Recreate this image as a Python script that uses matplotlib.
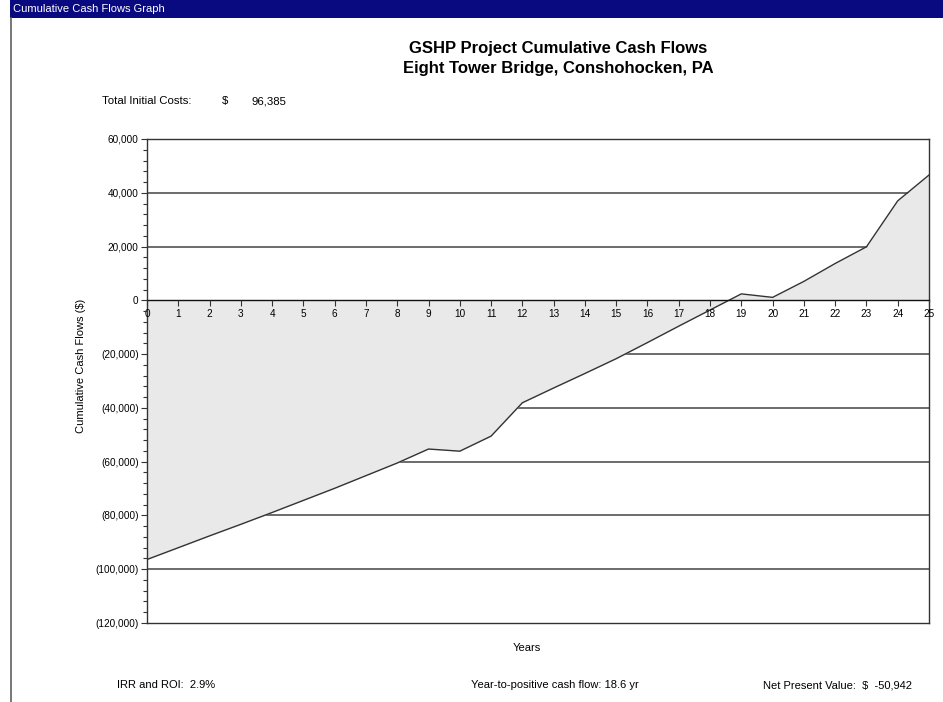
import matplotlib
matplotlib.use("Agg")
import matplotlib.pyplot as plt
from matplotlib.ticker import FuncFormatter, MultipleLocator
from matplotlib.patches import Rectangle
from matplotlib.lines import Line2D

years = list(range(0, 26))
cumulative = [-96385, -92000, -87600, -83300, -78900, -74400, -69900, -65200,
              -60500, -55300, -56100, -50500, -38100, -32600, -27200, -21700,
              -15700, -9600, -3600, 2400, 1100, 7050, 13700, 19900, 37000, 46600]

title_lines = ["GSHP Project Cumulative Cash Flows", "Eight Tower Bridge, Conshohocken, PA"]
window_title = "Cumulative Cash Flows Graph"
y_label = "Cumulative Cash Flows ($)"
x_label = "Years"
initial_cost_label = "Total Initial Costs:"
initial_cost_value = "96,385"
irr_text = "IRR and ROI:  2.9%"
payback_text = "Year-to-positive cash flow: 18.6 yr"
npv_text = "Net Present Value:  $  -50,942"

FONT = "Liberation Sans"
SMALL = 8.0
W, H = 943, 702
fig = plt.figure(figsize=(W / 100, H / 100), dpi=100)
fig.patch.set_facecolor("white")

def fx(px):
    return px / W

def fy(py):
    return 1 - py / H

# window chrome
fig.patches.append(Rectangle((fx(10), fy(18)), fx(933), 18 / H, transform=fig.transFigure,
                             facecolor="#0a0a80", edgecolor="none", zorder=0))
fig.text(fx(13), fy(9), window_title, color="white", fontsize=SMALL, family=FONT,
         va="center", ha="left")
fig.lines.append(Line2D([fx(10.5), fx(10.5)], [fy(18), fy(702)], transform=fig.transFigure,
                        color="#606060", lw=1.2))

ax = fig.add_axes([fx(147), fy(623), fx(929 - 147), (623 - 139) / H])
ax.set_xlim(0, 25)
ax.set_ylim(-120000, 60000)

# gridlines behind fill
for v in range(-100000, 60000, 20000):
    if v != 0:
        ax.axhline(v, color="#444444", lw=1.1, zorder=1)

ax.fill_between(years, cumulative, 0, color="#e9e9e9", zorder=2, linewidth=0)
ax.plot(years, cumulative, color="#333333", lw=1.0, zorder=3)

for s in ["top", "right", "left"]:
    ax.spines[s].set_color("#333333")
    ax.spines[s].set_linewidth(1.0)
ax.spines["bottom"].set_position(("data", 0))
ax.spines["bottom"].set_color("#111111")
ax.spines["bottom"].set_linewidth(1.0)
ax.spines["bottom"].set_zorder(4)
ax.plot([0, 25], [-120000, -120000], color="#333333", lw=1.0, clip_on=False, zorder=4)

ax.xaxis.set_zorder(5)
ax.yaxis.set_zorder(5)

ax.set_xticks(years)
ax.set_xticklabels([str(y) for y in years], fontsize=7.2, family=FONT)
ax.tick_params(axis="x", direction="out", length=4, width=0.8, pad=2, color="#333333")

ax.yaxis.set_major_locator(MultipleLocator(20000))
ax.yaxis.set_minor_locator(MultipleLocator(4000))

def fmt(v, pos):
    v = int(round(v))
    if v < 0:
        return "({:,})".format(-v)
    return "{:,}".format(v)

ax.yaxis.set_major_formatter(FuncFormatter(fmt))
ax.tick_params(axis="y", which="major", direction="out", length=4, width=0.8, pad=2,
               labelsize=7.2, color="#333333")
ax.tick_params(axis="y", which="minor", direction="out", length=3, width=0.8, color="#333333")
for lab in ax.get_yticklabels():
    lab.set_family(FONT)

fig.text(fx(558), fy(49), title_lines[0], ha="center", va="center", fontsize=12,
         fontweight="bold", family=FONT)
fig.text(fx(558), fy(69), title_lines[1], ha="center", va="center", fontsize=12,
         fontweight="bold", family=FONT)

fig.text(fx(102), fy(101), initial_cost_label, ha="left", va="center", fontsize=8.2, family=FONT)
fig.text(fx(222), fy(101), "$", ha="left", va="center", fontsize=8.2, family=FONT)
fig.text(fx(252), fy(101), initial_cost_value, ha="left", va="center", fontsize=8.2, family=FONT)

fig.text(fx(81), fy(366), y_label, ha="center", va="center", rotation=90, fontsize=SMALL, family=FONT)
fig.text(fx(527), fy(648), x_label, ha="center", va="center", fontsize=SMALL, family=FONT)

fig.text(fx(117), fy(685), irr_text, ha="left", va="center", fontsize=SMALL, family=FONT)
fig.text(fx(471), fy(685), payback_text, ha="left", va="center", fontsize=SMALL, family=FONT)
fig.text(fx(912), fy(685), npv_text, ha="right", va="center", fontsize=SMALL, family=FONT)

fig.savefig("out.png", dpi=100)
